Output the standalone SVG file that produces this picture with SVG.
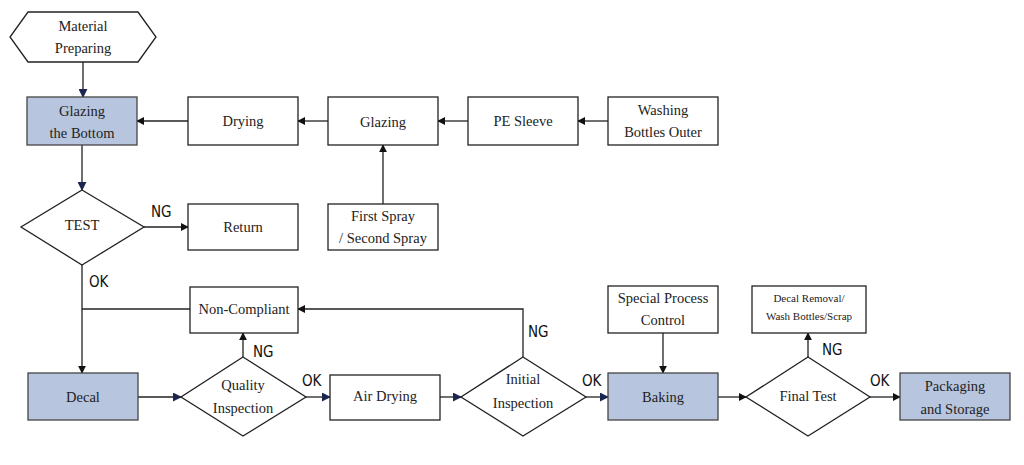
<svg xmlns="http://www.w3.org/2000/svg" width="1024" height="465" viewBox="0 0 1024 465">
<defs>
<style>
.b{fill:#fff;stroke:#222;stroke-width:1.3}
.h{fill:#b7c5de;stroke:#444;stroke-width:1.3}
.t{font-family:"Liberation Serif",serif;font-size:14.5px;fill:#222;text-anchor:middle}
.s{font-size:11px}
.l{font-family:"DejaVu Sans",sans-serif;font-stretch:condensed;font-size:15px;fill:#111}
.c{fill:none;stroke:#222;stroke-width:1.3}
</style>
<marker id="a" viewBox="0 0 10 10" refX="9" refY="5" markerWidth="8" markerHeight="8" orient="auto" markerUnits="userSpaceOnUse"><path d="M0,0L10,5L0,10z" fill="#111"/></marker>
<marker id="n" viewBox="0 0 10 10" refX="9" refY="5" markerWidth="9" markerHeight="9" orient="auto" markerUnits="userSpaceOnUse"><path d="M0,0L10,5L0,10z" fill="#1c2550"/></marker>
</defs>
<rect width="1024" height="465" fill="#fff"/>
<g id="connectors">
<path class="c" d="M83,62V97" marker-end="url(#n)"/>
<path class="c" d="M188,121H137" marker-end="url(#a)"/>
<path class="c" d="M328,121H298" marker-end="url(#a)"/>
<path class="c" d="M468,121H438" marker-end="url(#a)"/>
<path class="c" d="M608,121H578" marker-end="url(#a)"/>
<path class="c" d="M383,204V145" marker-end="url(#a)"/>
<path class="c" d="M82,145V190" marker-end="url(#n)"/>
<path class="c" d="M144,227H188" marker-end="url(#a)"/>
<path class="c" d="M82,265V373" marker-end="url(#a)"/>
<path class="c" d="M190,309H82"/>
<path class="c" d="M243,357V333" marker-end="url(#a)"/>
<path class="c" d="M138,397H181" marker-end="url(#n)"/>
<path class="c" d="M306,397H330" marker-end="url(#n)"/>
<path class="c" d="M440,397H461" marker-end="url(#n)"/>
<path class="c" d="M523,357V309H298" marker-end="url(#a)"/>
<path class="c" d="M586,397H608" marker-end="url(#n)"/>
<path class="c" d="M663,333V373" marker-end="url(#a)"/>
<path class="c" d="M718,397H746" marker-end="url(#a)"/>
<path class="c" d="M808,357V333" marker-end="url(#a)"/>
<path class="c" d="M870,397H900" marker-end="url(#a)"/>
<text class="l" x="151" y="217">NG</text>
<text class="l" x="89" y="287">OK</text>
<text class="l" x="253" y="357">NG</text>
<text class="l" x="302" y="386">OK</text>
<text class="l" x="528" y="337">NG</text>
<text class="l" x="582" y="386">OK</text>
<text class="l" x="822" y="355">NG</text>
<text class="l" x="870" y="386">OK</text>
</g>
<g id="material"><path class="b" d="M28,12H138L156,37L138,62H28L10,37z"/><text class="t" x="83" y="31">Material</text><text class="t" x="83" y="53">Preparing</text></g>
<g id="glazebottom"><rect class="h" x="27" y="97" width="110" height="48"/><text class="t" x="82" y="116">Glazing</text><text class="t" x="82" y="138">the Bottom</text></g>
<g id="drying"><rect class="b" x="188" y="97" width="110" height="48"/><text class="t" x="243" y="126">Drying</text></g>
<g id="glazing"><rect class="b" x="328" y="97" width="110" height="48"/><text class="t" x="383" y="127">Glazing</text></g>
<g id="pe"><rect class="b" x="468" y="97" width="110" height="48"/><text class="t" x="523" y="126">PE Sleeve</text></g>
<g id="washing"><rect class="b" x="608" y="97" width="110" height="48"/><text class="t" x="663" y="115">Washing</text><text class="t" x="663" y="137">Bottles Outer</text></g>
<g id="test"><path class="b" d="M82,190L144,227L82,265L21,227z"/><text class="t" x="82" y="230">TEST</text></g>
<g id="return"><rect class="b" x="188" y="204" width="110" height="46"/><text class="t" x="243" y="232">Return</text></g>
<g id="spray"><rect class="b" x="328" y="204" width="110" height="46"/><text class="t" x="383" y="221">First Spray</text><text class="t" x="383" y="243">/ Second Spray</text></g>
<g id="noncompliant"><rect class="b" x="190" y="287" width="108" height="46"/><text class="t" x="244" y="314">Non-Compliant</text></g>
<g id="decal"><rect class="h" x="28" y="373" width="110" height="47"/><text class="t" x="83" y="402">Decal</text></g>
<g id="qi"><path class="b" d="M243,357L306,397L243,436L181,397z"/><text class="t" x="243" y="390">Quality</text><text class="t" x="243" y="413">Inspection</text></g>
<g id="airdrying"><rect class="b" x="330" y="375" width="110" height="45"/><text class="t" x="385" y="401">Air Drying</text></g>
<g id="ii"><path class="b" d="M523,357L586,397L523,436L461,397z"/><text class="t" x="523" y="384">Initial</text><text class="t" x="523" y="408">Inspection</text></g>
<g id="baking"><rect class="h" x="608" y="373" width="110" height="47"/><text class="t" x="663" y="402">Baking</text></g>
<g id="special"><rect class="b" x="608" y="286" width="110" height="47"/><text class="t" x="663" y="303">Special Process</text><text class="t" x="663" y="325">Control</text></g>
<g id="final"><path class="b" d="M808,357L870,397L808,436L746,397z"/><text class="t" x="808" y="401">Final Test</text></g>
<g id="removal"><rect class="b" x="752" y="286" width="114" height="47"/><text class="t s" x="809" y="302">Decal Removal/</text><text class="t s" x="809" y="320">Wash Bottles/Scrap</text></g>
<g id="packaging"><rect class="h" x="900" y="373" width="110" height="47"/><text class="t" x="955" y="391">Packaging</text><text class="t" x="955" y="414">and Storage</text></g>
</svg>
